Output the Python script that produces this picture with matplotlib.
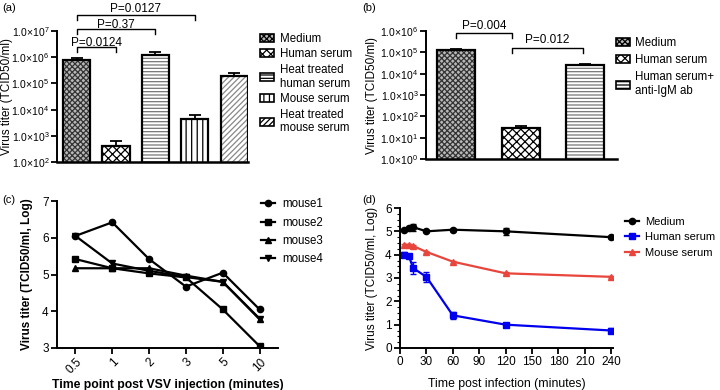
import numpy as np
import matplotlib
matplotlib.use('Agg')
import matplotlib.pyplot as plt
from matplotlib.patches import Patch
from matplotlib.lines import Line2D
from matplotlib.ticker import FixedLocator, LogLocator, MultipleLocator, NullFormatter

plt.rcParams['font.family'] = ['Liberation Sans', 'DejaVu Sans']
plt.rcParams['mathtext.fontset'] = 'custom'
plt.rcParams['mathtext.rm'] = 'Liberation Sans'
plt.rcParams['mathtext.it'] = 'Liberation Sans:italic'
plt.rcParams['mathtext.bf'] = 'Liberation Sans:bold'
plt.rcParams['hatch.linewidth'] = 0.9
plt.rcParams['axes.linewidth'] = 1.4

# panel (a)
a_labels = ['Medium', 'Human serum', 'Heat treated\nhuman serum', 'Mouse serum', 'Heat treated\nmouse serum']
a_values = [7.9e5, 4.0e2, 1.2e6, 4.5e3, 1.9e5]
a_err = [1.6e5, 2.6e2, 4.5e5, 1.5e3, 7.0e4]
a_style = [('xxxxxx', '#b8b8b8', '#333333'), ('xxxx', 'white', 'black'), ('-----', 'white', '#777777'),
           ('|||', 'white', 'black'), ('//////', 'white', '#888888')]
a_pvals = [('P=0.0124', 0, 1), ('P=0.37', 0, 2), ('P=0.0127', 0, 3)]

# panel (b)
b_labels = ['Medium', 'Human serum', 'Human serum+\nanti-IgM ab']
b_values = [1.35e5, 27, 2.5e4]
b_err = [1.5e4, 8, 4.0e3]
b_style = a_style[:3]

# panel (c)
c_times = ['0.5', '1', '2', '3', '5', '10']
c_mouse1 = [6.05, 6.42, 5.42, 4.67, 5.05, 4.05]
c_mouse2 = [5.42, 5.17, 5.03, 4.92, 4.05, 3.05]
c_mouse3 = [5.17, 5.17, 5.17, 4.97, 4.80, 3.78]
c_mouse4 = [6.05, 5.30, 5.10, 4.93, 4.80, 3.80]

# panel (d)
d_time = [5, 10, 15, 30, 60, 120, 240]
d_medium = [5.07, 5.15, 5.18, 5.00, 5.07, 5.00, 4.75]
d_medium_err = [0.05, 0.08, 0.15, 0.04, 0.04, 0.15, 0.04]
d_human = [4.00, 3.95, 3.42, 3.05, 1.40, 1.00, 0.75]
d_human_err = [0.10, 0.08, 0.25, 0.22, 0.15, 0.06, 0.12]
d_mouse = [4.43, 4.42, 4.37, 4.12, 3.70, 3.20, 3.05]
d_mouse_err = [0.04, 0.04, 0.04, 0.04, 0.04, 0.04, 0.04]

fig = plt.figure(figsize=(7.2, 3.9), dpi=100)
W, H = 720.0, 390.0


def box(x0, y0, x1, y1):
    return [x0 / W, 1 - y1 / H, (x1 - x0) / W, (y1 - y0) / H]


def sci(v):
    e = int(round(np.log10(v)))
    return '1.0\u00d710$^{%d}$' % e


def bar_panel(ax, values, err, styles, width, xlim, ylim, label_x):
    x = np.arange(len(values))
    for i in range(len(values)):
        h, fc, hc = styles[i]
        ax.bar(x[i], values[i], width=width, color=fc, edgecolor=hc, hatch=h, linewidth=0, zorder=2)
        ax.bar(x[i], values[i], width=width, fill=False, edgecolor='black', linewidth=1.6, zorder=3)
        ax.errorbar(x[i], values[i], yerr=[[0], [err[i]]], fmt='none', ecolor='black',
                    elinewidth=1.3, capsize=4, capthick=1.3, zorder=3)
    ax.set_yscale('log')
    ax.set_ylim(*ylim)
    ax.set_xlim(*xlim)
    ax.spines['top'].set_visible(False)
    ax.spines['right'].set_visible(False)
    ax.spines['bottom'].set_linewidth(1.8)
    ax.set_xticks([])
    decades = 10.0 ** np.arange(np.log10(ylim[0]), np.log10(ylim[1]) + 1)
    ax.yaxis.set_major_locator(FixedLocator(decades))
    ax.set_yticklabels([sci(d) for d in decades], fontsize=7.5)
    ax.yaxis.set_minor_locator(LogLocator(base=10, subs=np.arange(2, 10)))
    ax.yaxis.set_minor_formatter(NullFormatter())
    ax.tick_params(axis='y', which='major', length=4, width=1.3, pad=1.5)
    ax.tick_params(axis='y', which='minor', length=2, width=0.8)
    ax.set_ylabel('Virus titer (TCID50/ml)', fontsize=8.5)
    ax.yaxis.set_label_coords(label_x, 0.5)


def bracket(ax, x0, x1, yf, drop, text, ty):
    tr = matplotlib.transforms.blended_transform_factory(ax.transData, ax.transAxes)
    ax.plot([x0, x0, x1, x1], [yf - drop, yf, yf, yf - drop], color='black',
            lw=1.0, transform=tr, clip_on=False)
    ax.text((x0 + x1) / 2, ty, text, transform=tr, ha='center', va='center', fontsize=8.5)


def bar_handles(styles):
    return [Patch(facecolor=fc, edgecolor='black', hatch=h, linewidth=1.2) for h, fc, hc in styles]


# (a)
axa = fig.add_axes(box(57, 31, 248, 162))
bar_panel(axa, a_values, a_err, a_style, 0.69, (-0.5, 4.35), (1e2, 1e7), -0.228)
for (txt, i0, i1), yf, ty in zip(a_pvals, [0.878, 1.015, 1.122], [0.905, 1.045, 1.17]):
    bracket(axa, i0, i1, yf, 0.035, txt, ty)
axa.legend(bar_handles(a_style), a_labels, loc='upper left', bbox_to_anchor=(1.04, 1.02), frameon=False,
           fontsize=8.3, handlelength=1.2, handleheight=0.7, handletextpad=0.5,
           labelspacing=0.3, borderaxespad=0)
fig.text(2 / W, 1 - 8 / H, '(a)', fontsize=8, va='center')

# (b)
axb = fig.add_axes(box(426, 31, 617, 159))
bar_panel(axb, b_values, b_err, b_style, 0.59, (-0.47, 2.5), (1e0, 1e6), -0.25)
bracket(axb, 0, 0.86, 0.984, 0.035, 'P=0.004', 1.04)
bracket(axb, 0.86, 1.97, 0.867, 0.035, 'P=0.012', 0.93)
axb.legend(bar_handles(b_style), b_labels, loc='upper left', bbox_to_anchor=(0.97, 0.99), frameon=False,
           fontsize=8.3, handlelength=1.2, handleheight=0.7, handletextpad=0.5,
           labelspacing=0.45, borderaxespad=0)
fig.text(362 / W, 1 - 8 / H, '(b)', fontsize=8, va='center')

# (c)
axc = fig.add_axes(box(57, 201, 278, 348))
xc = np.arange(len(c_times))
series_c = [('mouse1', c_mouse1, 'o'), ('mouse2', c_mouse2, 's'),
            ('mouse3', c_mouse3, '^'), ('mouse4', c_mouse4, 'v')]
for name, vals, m in series_c:
    axc.plot(xc, vals, color='black', lw=1.6, marker=m, markersize=4.5, label=name)
axc.set_xlim(-0.5, 5.5)
axc.set_ylim(3, 7)
axc.set_xticks(xc)
axc.set_xticklabels(c_times, rotation=45, fontsize=8.5, ha='right', rotation_mode='anchor')
axc.set_yticks([3, 4, 5, 6, 7])
axc.tick_params(labelsize=8.5, width=1.3, length=4, pad=2)
axc.spines['top'].set_visible(False)
axc.spines['right'].set_visible(False)
axc.set_ylabel('Virus titer (TCID50/ml, Log)', fontsize=8.5, fontweight='bold')
axc.yaxis.set_label_coords(-0.11, 0.5)
axc.set_xlabel('Time point post VSV injection (minutes)', fontsize=8.8, fontweight='bold', labelpad=2)
axc.legend(loc='upper left', bbox_to_anchor=(0.9, 1.05), frameon=False, fontsize=8.3,
           handlelength=1.3, handletextpad=0.6, labelspacing=0.55, borderaxespad=0)
fig.text(2 / W, 1 - 200 / H, '(c)', fontsize=8, va='center')

# (d)
axd = fig.add_axes(box(400, 208, 613, 348))
series_d = [('Medium', d_medium, d_medium_err, 'black', 'o'),
            ('Human serum', d_human, d_human_err, '#0000ee', 's'),
            ('Mouse serum', d_mouse, d_mouse_err, '#e8453c', '^')]
for name, vals, err, col, m in series_d:
    axd.errorbar(d_time, vals, yerr=err, color=col, lw=1.6, marker=m, markersize=4.5,
                 capsize=2.5, elinewidth=1.0, label=name)
axd.set_xlim(0, 242)
axd.set_ylim(0, 6)
axd.set_xticks(np.arange(0, 241, 30))
axd.set_yticks(np.arange(0, 7))
axd.yaxis.set_minor_locator(MultipleLocator(0.25))
axd.tick_params(labelsize=8.5, width=1.3, length=4, pad=2)
axd.tick_params(which='minor', length=2, width=0.8)
axd.spines['top'].set_visible(False)
axd.spines['right'].set_visible(False)
axd.set_ylabel('Virus titer (TCID50/ml, Log)', fontsize=8.5)
axd.yaxis.set_label_coords(-0.103, 0.5)
axd.set_xlabel('Time post infection (minutes)', fontsize=8.8, labelpad=7)
hd = [Line2D([], [], color=c, marker=m, markersize=4.5, lw=1.6) for _, _, _, c, m in series_d]
axd.legend(hd, [s[0] for s in series_d], loc='upper left', bbox_to_anchor=(1.035, 0.97),
           frameon=False, fontsize=8, handlelength=1.3, handletextpad=0.5,
           labelspacing=0.5, borderaxespad=0)
fig.text(362 / W, 1 - 200 / H, '(d)', fontsize=8, va='center')

fig.savefig('out.png', dpi=100)
